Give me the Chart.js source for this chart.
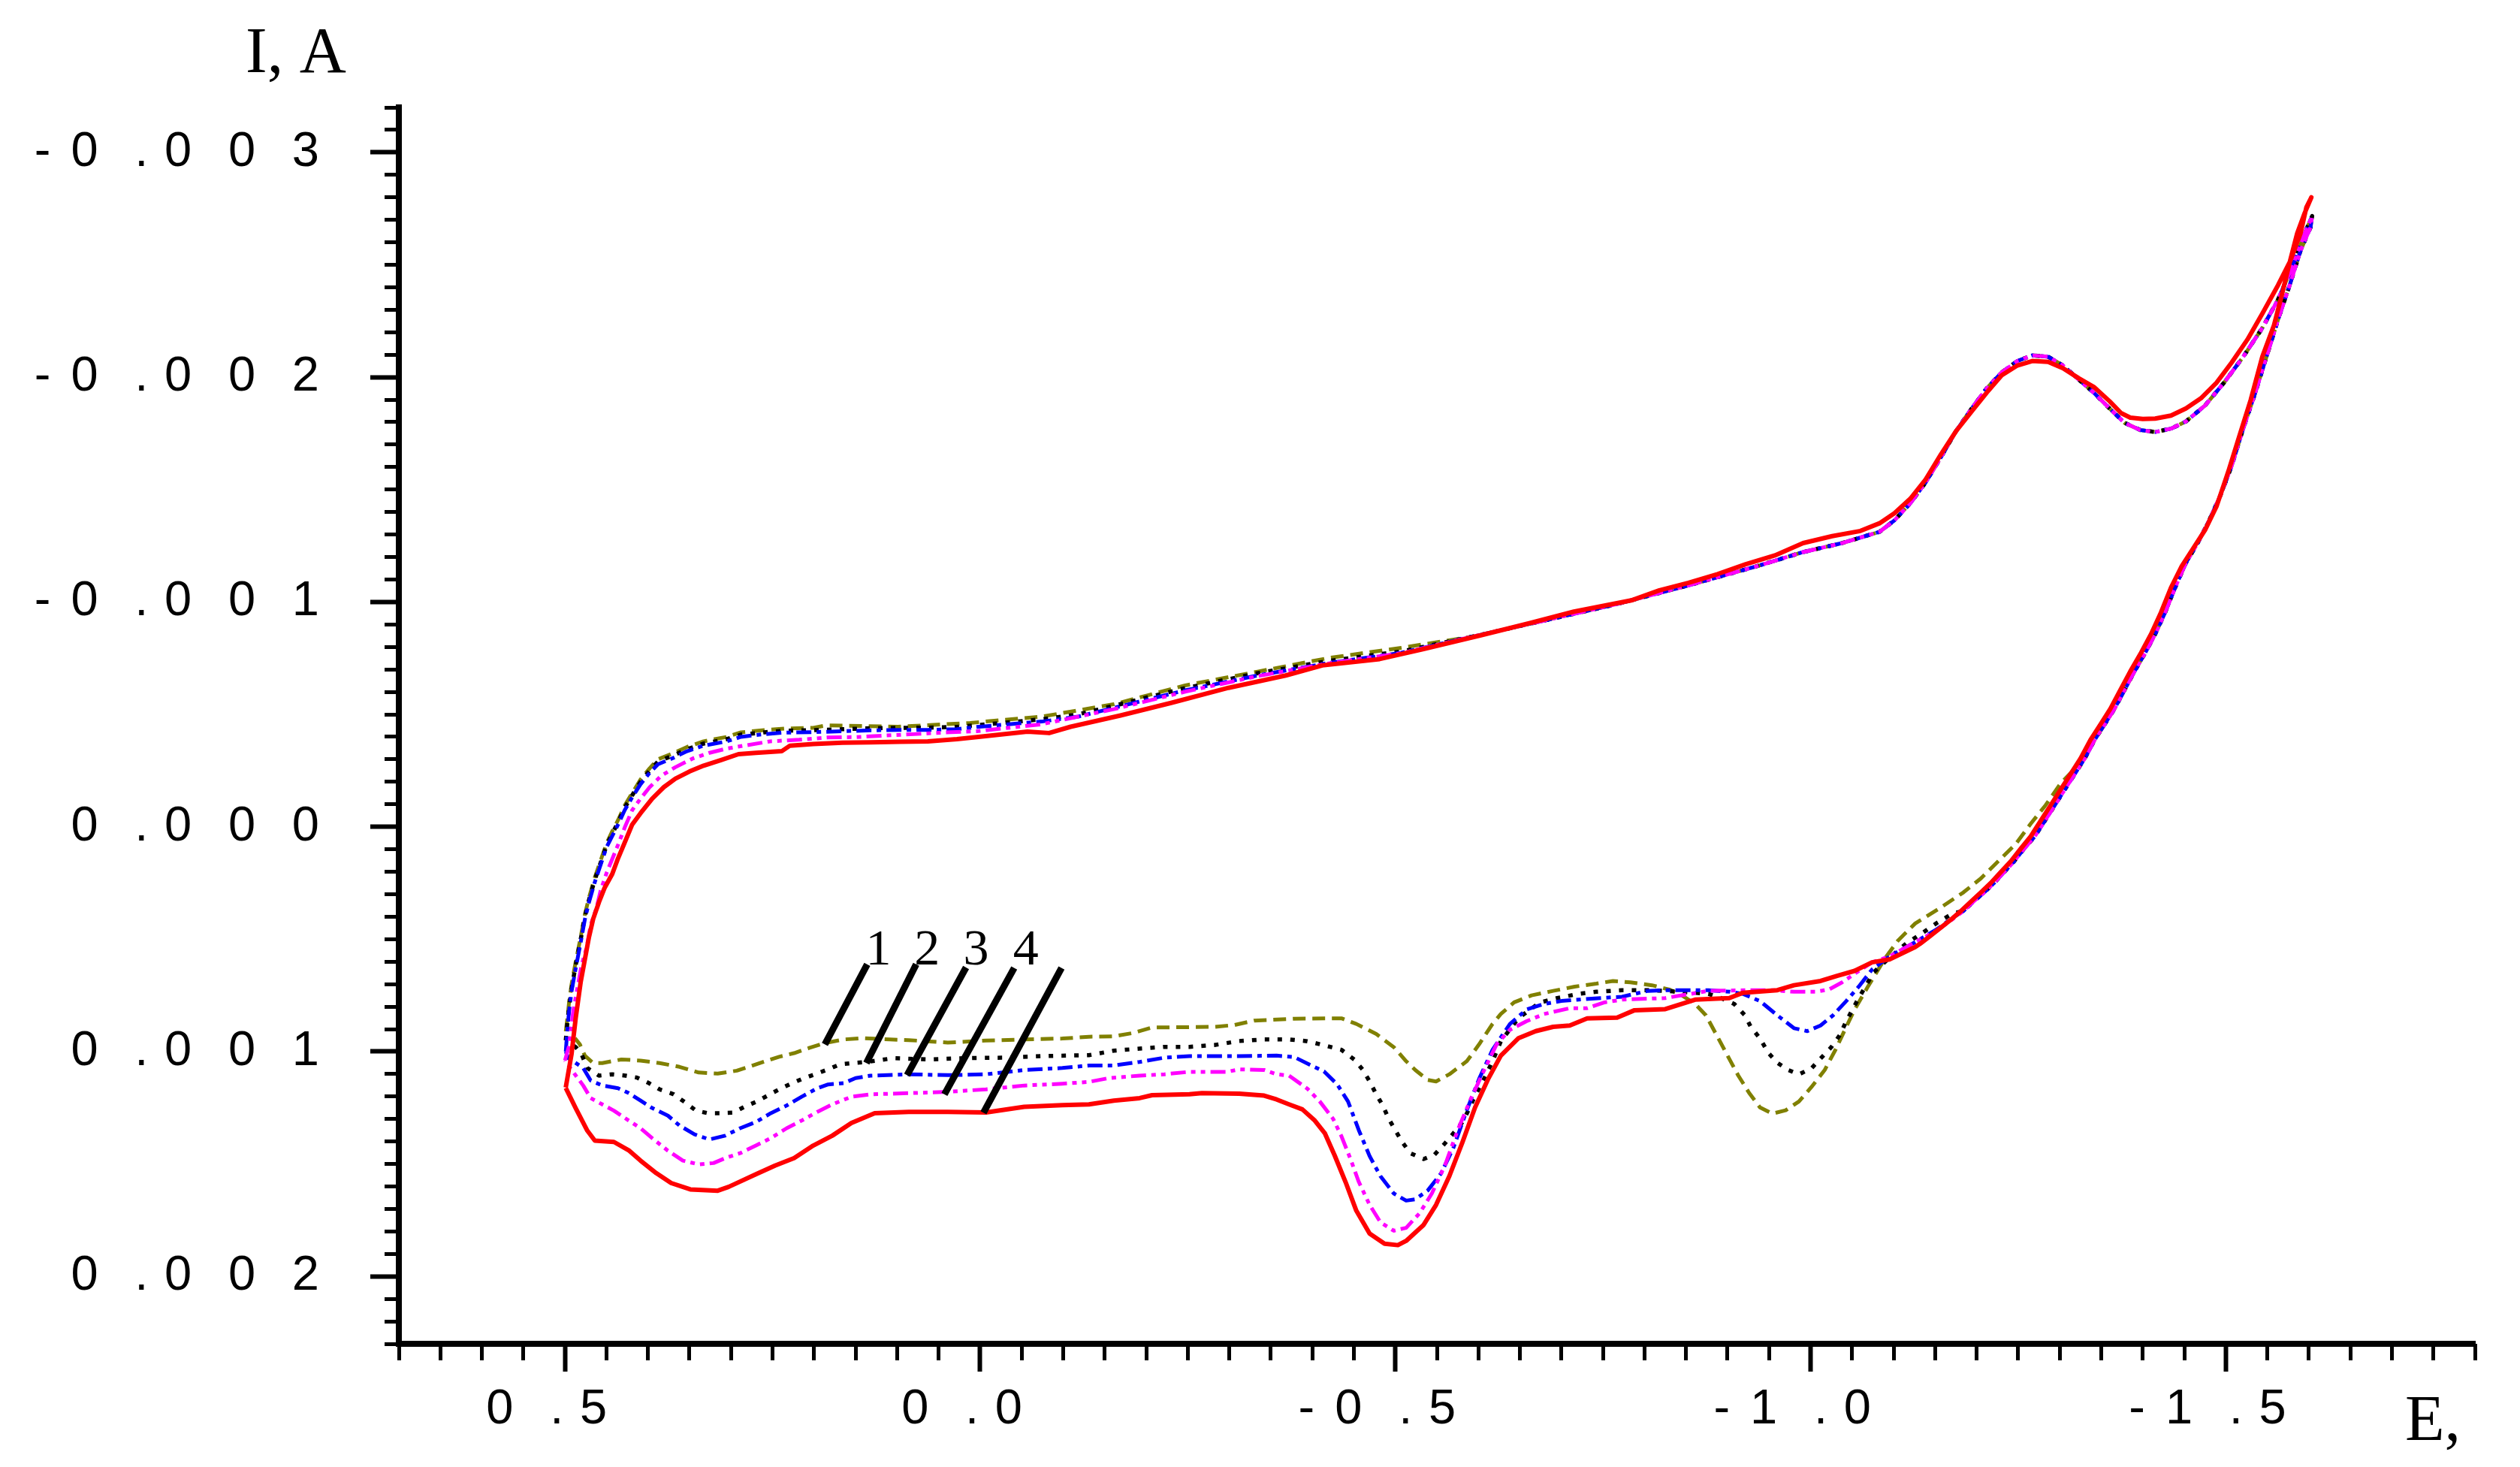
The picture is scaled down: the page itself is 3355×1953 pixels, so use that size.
<!DOCTYPE html>
<html><head><meta charset="utf-8">
<script src="https://cdn.jsdelivr.net/npm/chart.js@4.4.1/dist/chart.umd.min.js"></script>
<style>html,body{margin:0;padding:0;background:#fff;}canvas{display:block;}</style>
</head><body>
<canvas id="c" width="3355" height="1953" style="width:3355px;height:1953px"></canvas>
<script>
// ---- axis ticks (E in V, I in mA; labels shown in A) ----
const xMajorTicks = [0.5, 0.0, -0.5, -1.0, -1.5];
const yMajorTicks = [-3, -2, -1, 0, 1, 2];
const yTitle = 'I, A';
const xTitle = 'E,';
const curveNumbers = ['1', '2', '3', '4'];
const curveNumberE = [0.1225, 0.064, 0.005, -0.055];
const curveNumberI = 0.612;
const leaderTop = [[0.136, 0.612], [0.077, 0.612], [0.017, 0.626], [-0.041, 0.628], [-0.098, 0.628]];
const leaderEnd = [[0.187, 0.968], [0.137, 1.051], [0.088, 1.105], [0.043, 1.190], [-0.004, 1.272]];

// ---- curves: [E (V), I (mA)] ----
const upperTailShared = [[-0.593,-0.846],[-0.680,-0.918],[-0.766,-0.990],[-0.853,-1.074],[-0.939,-1.163],[-0.991,-1.222],[-1.037,-1.261],[-1.083,-1.312],[-1.101,-1.363],[-1.120,-1.439],[-1.138,-1.529],[-1.157,-1.644],[-1.175,-1.759],[-1.194,-1.861],[-1.212,-1.950],[-1.230,-2.021],[-1.249,-2.072],[-1.267,-2.097],[-1.286,-2.091],[-1.304,-2.052],[-1.323,-1.989],[-1.341,-1.931],[-1.360,-1.861],[-1.378,-1.797],[-1.397,-1.765],[-1.415,-1.756],[-1.434,-1.771],[-1.452,-1.803],[-1.475,-1.874],[-1.498,-1.976],[-1.521,-2.091],[-1.544,-2.219],[-1.563,-2.346],[-1.581,-2.499],[-1.595,-2.640],[-1.604,-2.717]];
const returnShared = [[-1.602,-2.666],[-1.590,-2.563],[-1.577,-2.410],[-1.563,-2.257],[-1.549,-2.091],[-1.535,-1.925],[-1.521,-1.772],[-1.507,-1.605],[-1.494,-1.478],[-1.480,-1.363],[-1.466,-1.261],[-1.452,-1.174],[-1.439,-1.064],[-1.427,-0.954],[-1.415,-0.857],[-1.403,-0.774],[-1.390,-0.691],[-1.378,-0.608],[-1.366,-0.525],[-1.354,-0.455],[-1.342,-0.386],[-1.330,-0.303]];
const returnLowShared = [[-1.318,-0.234],[-1.306,-0.165],[-1.294,-0.095],[-1.282,-0.026],[-1.270,0.043],[-1.257,0.098],[-1.245,0.154],[-1.233,0.202],[-1.221,0.250],[-1.209,0.292],[-1.196,0.333],[-1.184,0.375]];

const curve1Head = [[0.499,0.91],[0.497,0.85],[0.495,0.78],[0.492,0.70],[0.487,0.60],[0.481,0.49],[0.476,0.39],[0.471,0.315],[0.464,0.225],[0.457,0.15],[0.450,0.075],[0.443,0.02],[0.436,-0.03],[0.428,-0.095],[0.419,-0.15],[0.409,-0.21],[0.398,-0.26],[0.388,-0.30],[0.371,-0.325],[0.353,-0.355],[0.333,-0.38],[0.305,-0.40],[0.288,-0.42],[0.260,-0.43],[0.236,-0.437],[0.201,-0.44],[0.185,-0.451],[0.099,-0.445],[0.012,-0.462],[-0.074,-0.490],[-0.161,-0.545],[-0.247,-0.629],[-0.334,-0.690],[-0.420,-0.751],[-0.507,-0.796]];
const curve1Tail = [[-1.319,-0.262],[-1.301,-0.192],[-1.283,-0.096],[-1.265,-0.013],[-1.247,0.077],[-1.226,0.153],[-1.205,0.230],[-1.184,0.292],[-1.156,0.361],[-1.126,0.430],[-1.105,0.507],[-1.090,0.583],[-1.069,0.711],[-1.053,0.813],[-1.043,0.890],[-1.030,0.992],[-1.017,1.082],[-1.001,1.158],[-0.986,1.222],[-0.970,1.261],[-0.954,1.276],[-0.939,1.248],[-0.926,1.184],[-0.913,1.107],[-0.900,1.018],[-0.887,0.928],[-0.874,0.839],[-0.861,0.788],[-0.845,0.750],[-0.830,0.724],[-0.809,0.705],[-0.783,0.692],[-0.762,0.686],[-0.742,0.698],[-0.716,0.711],[-0.690,0.730],[-0.664,0.750],[-0.643,0.781],[-0.627,0.833],[-0.617,0.877],[-0.601,0.967],[-0.586,1.043],[-0.565,1.101],[-0.549,1.133],[-0.539,1.126],[-0.524,1.082],[-0.513,1.043],[-0.498,0.980],[-0.477,0.922],[-0.453,0.877],[-0.435,0.852],[-0.378,0.854],[-0.330,0.862],[-0.306,0.882],[-0.282,0.890],[-0.207,0.893],[-0.183,0.918],[-0.161,0.932],[-0.131,0.934],[-0.099,0.942],[-0.053,0.946],[-0.007,0.951],[0.039,0.960],[0.086,0.949],[0.109,0.946],[0.141,0.940],[0.164,0.946],[0.187,0.962],[0.206,0.984],[0.224,1.007],[0.242,1.023],[0.261,1.046],[0.279,1.068],[0.293,1.085],[0.316,1.098],[0.339,1.093],[0.362,1.068],[0.386,1.051],[0.409,1.040],[0.432,1.035],[0.455,1.051],[0.466,1.051],[0.476,1.018],[0.482,0.968],[0.488,0.94]];

const curve2Head = [[0.499,0.95],[0.497,0.87],[0.495,0.80],[0.492,0.72],[0.487,0.615],[0.481,0.50],[0.476,0.40],[0.471,0.325],[0.464,0.235],[0.457,0.16],[0.450,0.085],[0.443,0.03],[0.436,-0.02],[0.428,-0.085],[0.419,-0.14],[0.409,-0.20],[0.398,-0.25],[0.388,-0.29],[0.371,-0.315],[0.353,-0.345],[0.333,-0.37],[0.305,-0.39],[0.288,-0.41],[0.260,-0.42],[0.236,-0.427],[0.201,-0.43],[0.166,-0.434],[0.132,-0.438],[0.097,-0.44],[0.063,-0.441],[0.028,-0.444],[0.004,-0.452],[-0.074,-0.478],[-0.118,-0.50],[-0.161,-0.538],[-0.204,-0.578],[-0.247,-0.617],[-0.334,-0.683],[-0.420,-0.738],[-0.507,-0.780]];
const curve2Tail = [[-1.171,0.386],[-1.152,0.428],[-1.136,0.469],[-1.115,0.520],[-1.095,0.583],[-1.076,0.647],[-1.066,0.711],[-1.056,0.775],[-1.043,0.865],[-1.035,0.928],[-1.025,0.980],[-1.012,1.031],[-1.001,1.075],[-0.986,1.101],[-0.973,1.082],[-0.960,1.050],[-0.949,1.005],[-0.939,0.941],[-0.928,0.890],[-0.921,0.839],[-0.908,0.788],[-0.892,0.762],[-0.877,0.743],[-0.856,0.737],[-0.825,0.730],[-0.804,0.727],[-0.773,0.727],[-0.742,0.734],[-0.721,0.743],[-0.695,0.762],[-0.674,0.782],[-0.648,0.852],[-0.627,0.954],[-0.617,1.043],[-0.607,1.120],[-0.596,1.197],[-0.588,1.261],[-0.581,1.312],[-0.570,1.363],[-0.560,1.407],[-0.547,1.459],[-0.534,1.478],[-0.518,1.452],[-0.508,1.401],[-0.500,1.350],[-0.492,1.299],[-0.485,1.241],[-0.477,1.190],[-0.469,1.133],[-0.461,1.082],[-0.451,1.037],[-0.435,0.992],[-0.409,0.967],[-0.394,0.954],[-0.372,0.946],[-0.342,0.946],[-0.312,0.953],[-0.282,0.971],[-0.252,0.979],[-0.222,0.979],[-0.192,0.987],[-0.161,0.996],[-0.131,1.016],[-0.076,1.020],[-0.030,1.027],[0.016,1.029],[0.063,1.035],[0.104,1.029],[0.136,1.046],[0.153,1.051],[0.169,1.057],[0.183,1.079],[0.199,1.101],[0.212,1.118],[0.226,1.140],[0.242,1.168],[0.256,1.196],[0.270,1.224],[0.284,1.246],[0.298,1.272],[0.312,1.274],[0.328,1.274],[0.342,1.263],[0.356,1.224],[0.369,1.190],[0.386,1.168],[0.399,1.140],[0.413,1.116],[0.427,1.107],[0.443,1.101],[0.459,1.107],[0.473,1.073],[0.480,1.012],[0.487,0.98],[0.499,0.95]];

const curve3Head = [[0.499,1.00],[0.497,0.90],[0.495,0.82],[0.492,0.731],[0.487,0.629],[0.481,0.514],[0.476,0.412],[0.471,0.335],[0.464,0.246],[0.457,0.169],[0.450,0.092],[0.443,0.041],[0.436,-0.010],[0.428,-0.074],[0.419,-0.131],[0.409,-0.189],[0.398,-0.240],[0.388,-0.278],[0.371,-0.304],[0.353,-0.336],[0.333,-0.361],[0.305,-0.380],[0.288,-0.400],[0.260,-0.412],[0.236,-0.419],[0.201,-0.421],[0.166,-0.425],[0.132,-0.429],[0.097,-0.431],[0.063,-0.431],[0.028,-0.434],[0.004,-0.444],[-0.074,-0.468],[-0.118,-0.490],[-0.161,-0.529],[-0.204,-0.568],[-0.247,-0.607],[-0.334,-0.673],[-0.420,-0.729],[-0.507,-0.774]];
const curve3Tail = [[-1.171,0.405],[-1.152,0.456],[-1.126,0.513],[-1.095,0.577],[-1.074,0.635],[-1.058,0.711],[-1.043,0.775],[-1.027,0.839],[-1.012,0.884],[-0.996,0.909],[-0.980,0.896],[-0.960,0.839],[-0.939,0.775],[-0.918,0.743],[-0.903,0.734],[-0.877,0.727],[-0.825,0.727],[-0.804,0.730],[-0.773,0.756],[-0.747,0.762],[-0.721,0.769],[-0.700,0.775],[-0.679,0.788],[-0.658,0.813],[-0.638,0.877],[-0.617,0.992],[-0.601,1.120],[-0.586,1.261],[-0.570,1.427],[-0.555,1.542],[-0.539,1.618],[-0.524,1.657],[-0.513,1.663],[-0.498,1.631],[-0.482,1.554],[-0.469,1.465],[-0.456,1.350],[-0.443,1.222],[-0.430,1.146],[-0.414,1.088],[-0.399,1.062],[-0.378,1.024],[-0.357,1.018],[-0.312,1.020],[-0.252,1.020],[-0.222,1.027],[-0.192,1.046],[-0.161,1.062],[-0.131,1.062],[-0.099,1.073],[-0.053,1.082],[-0.007,1.101],[0.039,1.105],[0.086,1.101],[0.132,1.107],[0.150,1.118],[0.164,1.140],[0.183,1.146],[0.196,1.163],[0.215,1.201],[0.233,1.240],[0.252,1.274],[0.270,1.313],[0.289,1.341],[0.307,1.374],[0.326,1.391],[0.344,1.368],[0.362,1.329],[0.376,1.285],[0.395,1.251],[0.409,1.218],[0.423,1.185],[0.436,1.163],[0.455,1.151],[0.469,1.129],[0.478,1.073],[0.487,1.051],[0.496,1.029],[0.499,1.00]];

const curve4Head = [[0.500,1.04],[0.495,0.974],[0.490,0.820],[0.485,0.718],[0.480,0.616],[0.474,0.539],[0.469,0.437],[0.462,0.361],[0.457,0.284],[0.450,0.207],[0.443,0.143],[0.436,0.080],[0.428,0.003],[0.419,-0.074],[0.409,-0.125],[0.398,-0.176],[0.384,-0.227],[0.367,-0.265],[0.346,-0.304],[0.326,-0.329],[0.305,-0.348],[0.284,-0.361],[0.253,-0.380],[0.218,-0.387],[0.184,-0.397],[0.149,-0.399],[0.114,-0.406],[0.080,-0.412],[0.045,-0.419],[0.004,-0.425],[-0.074,-0.456],[-0.161,-0.523],[-0.247,-0.601],[-0.334,-0.670],[-0.420,-0.727],[-0.507,-0.772]];
const curve4Tail = [[-1.171,0.411],[-1.152,0.462],[-1.126,0.513],[-1.095,0.577],[-1.074,0.603],[-1.053,0.654],[-1.038,0.692],[-1.022,0.724],[-1.006,0.734],[-0.980,0.734],[-0.954,0.727],[-0.928,0.727],[-0.877,0.730],[-0.856,0.743],[-0.825,0.762],[-0.773,0.769],[-0.752,0.781],[-0.731,0.807],[-0.710,0.807],[-0.679,0.833],[-0.658,0.865],[-0.638,0.903],[-0.622,0.967],[-0.607,1.082],[-0.591,1.209],[-0.575,1.350],[-0.560,1.503],[-0.544,1.631],[-0.529,1.720],[-0.513,1.784],[-0.498,1.797],[-0.482,1.759],[-0.469,1.682],[-0.456,1.580],[-0.446,1.478],[-0.435,1.376],[-0.425,1.299],[-0.409,1.222],[-0.394,1.165],[-0.372,1.107],[-0.357,1.101],[-0.342,1.082],[-0.312,1.079],[-0.297,1.090],[-0.252,1.090],[-0.222,1.101],[-0.192,1.107],[-0.155,1.118],[-0.131,1.135],[-0.099,1.143],[-0.053,1.151],[-0.007,1.168],[0.039,1.179],[0.086,1.185],[0.132,1.190],[0.155,1.201],[0.178,1.235],[0.196,1.268],[0.215,1.307],[0.233,1.341],[0.252,1.385],[0.270,1.418],[0.289,1.452],[0.307,1.474],[0.321,1.496],[0.339,1.502],[0.358,1.485],[0.376,1.441],[0.395,1.385],[0.409,1.341],[0.423,1.307],[0.441,1.263],[0.455,1.235],[0.469,1.207],[0.478,1.151],[0.489,1.096],[0.500,1.04]];

const curve5 = [[0.499,1.16],[0.492,1.01],[0.487,0.85],[0.481,0.69],[0.476,0.59],[0.471,0.49],[0.466,0.41],[0.459,0.335],[0.452,0.27],[0.443,0.21],[0.436,0.14],[0.428,0.07],[0.419,-0.01],[0.409,-0.06],[0.395,-0.125],[0.381,-0.176],[0.367,-0.214],[0.350,-0.246],[0.333,-0.272],[0.312,-0.297],[0.291,-0.323],[0.270,-0.329],[0.239,-0.336],[0.229,-0.361],[0.201,-0.368],[0.166,-0.374],[0.132,-0.376],[0.097,-0.378],[0.063,-0.38],[0.028,-0.39],[0.004,-0.399],[-0.057,-0.423],[-0.083,-0.417],[-0.109,-0.445],[-0.169,-0.495],[-0.230,-0.551],[-0.299,-0.618],[-0.368,-0.673],[-0.412,-0.718],[-0.481,-0.746],[-0.533,-0.79],[-0.602,-0.851],[-0.663,-0.907],[-0.715,-0.957],[-0.784,-1.007],[-0.818,-1.052],[-0.853,-1.085],[-0.888,-1.124],[-0.922,-1.168],[-0.957,-1.207],[-0.991,-1.262],[-1.026,-1.293],[-1.060,-1.316],[-1.083,-1.350],[-1.101,-1.395],[-1.120,-1.459],[-1.138,-1.542],[-1.157,-1.657],[-1.175,-1.759],[-1.194,-1.848],[-1.212,-1.931],[-1.230,-2.008],[-1.249,-2.052],[-1.267,-2.072],[-1.286,-2.068],[-1.304,-2.040],[-1.323,-1.995],[-1.341,-1.957],[-1.360,-1.893],[-1.374,-1.840],[-1.385,-1.820],[-1.400,-1.814],[-1.415,-1.816],[-1.434,-1.829],[-1.452,-1.861],[-1.470,-1.906],[-1.489,-1.976],[-1.507,-2.065],[-1.526,-2.167],[-1.544,-2.283],[-1.563,-2.410],[-1.577,-2.512],[-1.590,-2.640],[-1.597,-2.755],[-1.603,-2.800],
  [-1.595,-2.730],[-1.586,-2.640],[-1.577,-2.512],[-1.567,-2.359],[-1.558,-2.231],[-1.544,-2.091],[-1.530,-1.899],[-1.517,-1.746],[-1.503,-1.580],[-1.489,-1.427],[-1.475,-1.32],[-1.461,-1.24],[-1.447,-1.160],[-1.434,-1.064],[-1.422,-0.954],[-1.410,-0.857],[-1.398,-0.774],[-1.385,-0.691],[-1.373,-0.608],[-1.361,-0.525],[-1.349,-0.455],[-1.337,-0.386],[-1.325,-0.303],[-1.313,-0.234],[-1.301,-0.165],[-1.289,-0.095],[-1.277,-0.026],[-1.265,0.043],[-1.253,0.098],[-1.241,0.154],[-1.229,0.202],[-1.217,0.250],[-1.205,0.292],[-1.193,0.333],[-1.181,0.375],[-1.168,0.416],[-1.156,0.451],[-1.144,0.486],[-1.132,0.520],[-1.126,0.535],[-1.095,0.590],[-1.074,0.603],[-1.053,0.641],[-1.032,0.663],[-1.012,0.686],[-0.980,0.705],[-0.960,0.727],[-0.918,0.739],[-0.902,0.762],[-0.861,0.769],[-0.825,0.811],[-0.788,0.816],[-0.767,0.849],[-0.731,0.852],[-0.710,0.884],[-0.690,0.890],[-0.669,0.909],[-0.648,0.941],[-0.627,1.018],[-0.612,1.120],[-0.596,1.248],[-0.581,1.401],[-0.565,1.554],[-0.549,1.682],[-0.534,1.771],[-0.513,1.842],[-0.503,1.861],[-0.487,1.855],[-0.469,1.810],[-0.453,1.708],[-0.440,1.580],[-0.427,1.463],[-0.415,1.363],[-0.403,1.307],[-0.388,1.257],[-0.372,1.235],[-0.357,1.213],[-0.342,1.196],[-0.312,1.187],[-0.267,1.185],[-0.252,1.190],[-0.207,1.194],[-0.192,1.207],[-0.161,1.218],[-0.131,1.235],[-0.099,1.238],[-0.053,1.246],[-0.007,1.271],[0.039,1.268],[0.086,1.268],[0.127,1.274],[0.141,1.296],[0.155,1.318],[0.178,1.374],[0.201,1.418],[0.224,1.474],[0.247,1.507],[0.270,1.546],[0.303,1.602],[0.316,1.619],[0.349,1.613],[0.372,1.585],[0.390,1.541],[0.409,1.485],[0.4225,1.441],[0.441,1.402],[0.464,1.396],[0.473,1.352],[0.487,1.252],[0.499,1.162]];

const curve1 = curve1Head.concat(upperTailShared, returnShared, curve1Tail);
const curve2 = curve2Head.concat(upperTailShared, returnShared, returnLowShared, curve2Tail);
const curve3 = curve3Head.concat(upperTailShared, returnShared, returnLowShared, curve3Tail);
const curve4 = curve4Head.concat(upperTailShared, returnShared, returnLowShared, curve4Tail);

const pts = a => a.map(p => ({x: p[0], y: p[1]}));
const TICK_FONT = '"Liberation Sans", Arial, Helvetica, sans-serif';
const SERIF = '"Liberation Serif", "Times New Roman", Times, serif';

function spaced(s, trailing) {
  let out = '';
  for (let i = 0; i < s.length; i++) {
    const c = s[i];
    out += c;
    if (i < s.length - 1 || trailing) out += (c === '.') ? '\u2004' : (c === '-') ? '\u2005\u2006' : '\u2002\u2005';
  }
  return out;
}
const clean = v => (Math.abs(v) < 1e-9 ? 0 : v);

function lineDs(data, color, dash, width, order) {
  return {data: pts(data), showLine: true, borderColor: color, backgroundColor: color, borderWidth: width,
    borderDash: dash, pointRadius: 0, pointHoverRadius: 0, tension: 0, fill: false, order: order,
    borderCapStyle: 'butt', borderJoinStyle: 'round', xAxisID: 'x', yAxisID: 'y'};
}

const datasets = [
  lineDs(curve5, '#ff0000', [], 6, 0),
  lineDs(curve4, '#ff00ff', [20, 7, 6, 7, 6, 7], 5, 1),
  lineDs(curve3, '#0000ff', [20, 7, 6, 7], 5, 2),
  lineDs(curve2, '#000000', [6, 11], 5.5, 3),
  lineDs(curve1, '#808000', [17, 9], 5, 4)
];
leaderTop.forEach((t, k) => datasets.push(lineDs([t, leaderEnd[k]], '#000000', [], 9, -1)));

const annot = {
  id: 'annot',
  afterDatasetsDraw(chart) {
    const {ctx, chartArea, scales} = chart;
    const x = scales.x, y = scales.y;
    ctx.save();
    ctx.fillStyle = '#000';
    ctx.textBaseline = 'alphabetic';
    ctx.font = '68px ' + SERIF;
    ctx.textAlign = 'center';
    curveNumbers.forEach((t, k) => ctx.fillText(t, x.getPixelForValue(curveNumberE[k]), y.getPixelForValue(curveNumberI)));
    ctx.font = '86px ' + SERIF;
    ctx.textAlign = 'left';
    ctx.fillText(yTitle, chartArea.left - 204, chartArea.top - 47);
    ctx.fillText(xTitle, chartArea.right - 93, chartArea.bottom + 128);
    ctx.restore();
  }
};

new Chart(document.getElementById('c'), {
  type: 'scatter',
  data: {datasets},
  plugins: [annot],
  options: {
    responsive: false, animation: false, devicePixelRatio: 1,
    layout: {padding: {left: 0, top: 143, right: 60, bottom: 0}},
    plugins: {legend: {display: false}, tooltip: {enabled: false}},
    scales: {
      x: {
        type: 'linear', axis: 'x', position: 'bottom', min: -1.8, max: 0.7, reverse: true, weight: 1,
        afterBuildTicks: s => { s.ticks = xMajorTicks.map(v => ({value: v})); },
        ticks: {autoSkip: false, maxRotation: 0, minRotation: 0, padding: 12, color: '#000',
          font: {family: TICK_FONT, size: 65},
          callback: v => spaced(clean(v).toFixed(1), true)},
        grid: {display: true, drawOnChartArea: false, drawTicks: true, tickLength: 37, tickWidth: 6, tickColor: '#000'},
        border: {display: true, width: 8, color: '#000'},
        afterFit: s => { s.height = 164; }
      },
      xMinor: {
        type: 'linear', axis: 'x', position: 'bottom', min: -1.8, max: 0.7, reverse: true, weight: 0,
        ticks: {display: false, stepSize: 0.05},
        grid: {display: true, drawOnChartArea: false, drawTicks: true, tickLength: 22, tickWidth: 5, tickColor: '#000'},
        border: {display: false},
        afterFit: s => { s.height = 0; }
      },
      y: {
        type: 'linear', axis: 'y', position: 'left', min: -3.2, max: 2.3, reverse: true, weight: 1,
        afterBuildTicks: s => { s.ticks = yMajorTicks.map(v => ({value: v})); },
        ticks: {autoSkip: false, padding: 68, color: '#000',
          font: {family: TICK_FONT, size: 65},
          callback: v => spaced((clean(v) / 1000).toFixed(3), false)},
        grid: {display: true, drawOnChartArea: false, drawTicks: true, tickLength: 38, tickWidth: 6, tickColor: '#000'},
        border: {display: true, width: 8, color: '#000'},
        afterFit: s => { s.width = 531; }
      },
      yMinor: {
        type: 'linear', axis: 'y', position: 'left', min: -3.2, max: 2.3, reverse: true, weight: 0,
        ticks: {display: false, stepSize: 0.1},
        grid: {display: true, drawOnChartArea: false, drawTicks: true, tickLength: 19, tickWidth: 5, tickColor: '#000'},
        border: {display: false},
        afterFit: s => { s.width = 0; }
      }
    }
  }
});
</script>
</body></html>
